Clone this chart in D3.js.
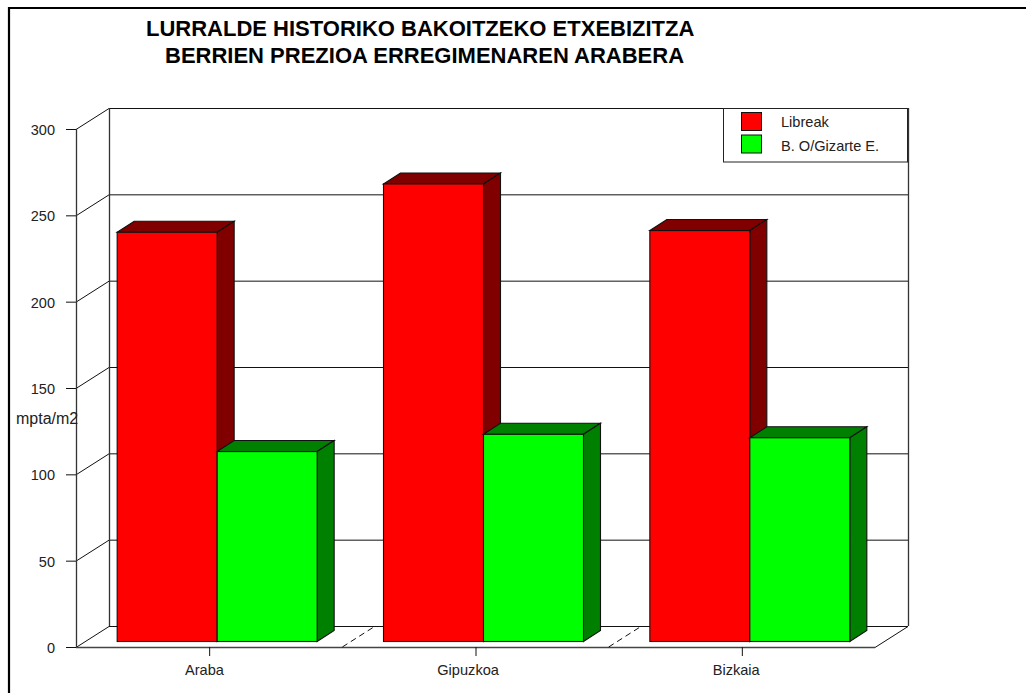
<!DOCTYPE html>
<html><head><meta charset="utf-8">
<script src="https://cdnjs.cloudflare.com/ajax/libs/d3/7.8.5/d3.min.js"></script>
<style>html,body{margin:0;padding:0;background:#fff}svg{display:block}text{font-family:"Liberation Sans",Arial,sans-serif;fill:#222}</style>
</head><body><svg id="c" width="1026" height="693"></svg>
<script>
const titleLines = ["LURRALDE HISTORIKO BAKOITZEKO ETXEBIZITZA","BERRIEN PREZIOA ERREGIMENAREN ARABERA"];
const categories = ["Araba","Gipuzkoa","Bizkaia"];
const seriesNames = ["Libreak","B. O/Gizarte E."];
const libreak = [237,265,238];
const gizarte = [110,120,118];
const yTicks = [0,50,100,150,200,250,300];
const yLabel = "mpta/m2";
const colors = ["#ff0000","#00ff00"], sideColors = ["#800000","#008000"];

const svg = d3.select("#c");
const depth = {x:33,y:-21}, barD = {x:17,y:-11}, barOff = {x:8,y:-5.5};
const y = d3.scaleLinear().domain([0,300]).range([647,129]);
const x = d3.scaleBand().domain(categories).range([76,875]);
const inner = d3.scaleBand().domain([0,1]).range([0,200]);
const barLeft = c => x(c)+x.bandwidth()/2+barOff.x-100;
const L = (x1,y1,x2,y2,dash,col,w) => svg.append("line").attr("x1",x1).attr("y1",y1).attr("x2",x2).attr("y2",y2)
  .attr("stroke",col||"#111").attr("stroke-width",w||1).attr("stroke-dasharray",dash||null);
const x0=76,x1=875;
// frame
svg.append("path").attr("d","M9,693V8H1026").attr("fill","none").attr("stroke","#000").attr("stroke-width",2.2);
// walls
yTicks.forEach(t=>{
  const p=y(t)+.5;
  L(x0,p,x0+depth.x,p+depth.y);
  L(x0+depth.x,p+depth.y,x1+depth.x,p+depth.y);
  L(66,p,x0,p);
});
L(x0+.5,y(300),x0+.5,y(0),null,"#333",1.3);
L(x0+depth.x+.5,y(300)+depth.y,x0+depth.x+.5,y(0)+depth.y,null,"#333",1.3);
L(x1+depth.x+.5,y(300)+depth.y,x1+depth.x+.5,y(0)+depth.y,null,"#333",1.3);
L(x1,y(0)+.5,x1+depth.x,y(0)+depth.y+.5);
// floor front + ticks + separators
L(x0,y(0)+.5,x1,y(0)+.5,null,"#444",1.4);
categories.forEach((c,i)=>{
  const cx=x(c)+x.bandwidth()/2;
  L(cx+.5,y(0),cx+.5,y(0)+9);
  const tx=svg.append("text").attr("y",675).attr("font-size",14.6).text(c);
  tx.attr("x",cx-0.62*tx.node().getComputedTextLength());
  if(i>0) L(x(c),y(0),x(c)+depth.x,y(0)+depth.y,"6,4");
});
// bars
const hy = v => y(v)+barOff.y;
const base = y(0)+barOff.y;
categories.forEach((c,i)=>{
  [libreak,gizarte].forEach((s,k)=>{
    const l=barLeft(c)+inner(k), w=inner.bandwidth(), t=hy(s[i]);
    const g=svg.append("g").attr("stroke","#111").attr("stroke-width",1.1).attr("stroke-linejoin","miter");
    g.append("path").attr("fill",sideColors[k])
      .attr("d",`M${l},${t}l${barD.x},${barD.y}h${w}l${-barD.x},${-barD.y}Z`);
    g.append("path").attr("fill",sideColors[k])
      .attr("d",`M${l+w},${t}l${barD.x},${barD.y}V${base+barD.y}l${-barD.x},${-barD.y}Z`);
    g.append("rect").attr("x",l).attr("y",t).attr("width",w).attr("height",base-t).attr("fill",colors[k]);
  });
});
// y labels
yTicks.forEach(t=>svg.append("text").attr("x",55).attr("y",y(t)+6).attr("text-anchor","end").attr("font-size",14.5).text(t));
svg.append("text").attr("x",16).attr("y",424).attr("font-size",16).text(yLabel);
// legend
svg.append("rect").attr("x",723.5).attr("y",108.5).attr("width",184).attr("height",53.5).attr("fill","#fff").attr("stroke","#222");
seriesNames.forEach((n,i)=>{
  svg.append("rect").attr("x",741.5).attr("y",112.5+i*22.5).attr("width",20).attr("height",18).attr("fill",colors[i]).attr("stroke","#111");
  svg.append("text").attr("x",781).attr("y",127+i*24).attr("font-size",14.6).text(n);
});
// title
svg.append("text").attr("x",146).attr("y",36).attr("font-size",22).attr("font-weight","bold").style("fill","#000").text(titleLines[0]);
svg.append("text").attr("x",165).attr("y",63).attr("font-size",22).attr("font-weight","bold").style("fill","#000").text(titleLines[1]);
</script></body></html>
